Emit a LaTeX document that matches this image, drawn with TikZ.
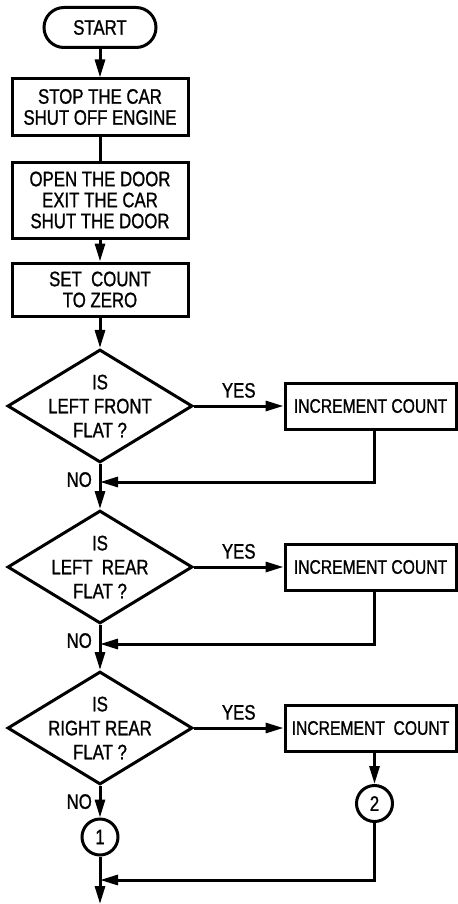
\documentclass[tikz,border=0pt]{standalone}
\usepackage{fontspec}
\setmainfont{Liberation Sans}[FakeStretch=0.8,FakeBold=1]
\usepackage{tikz}
\usetikzlibrary{shapes.geometric,arrows.meta}

\tikzset{
  every node/.style={font=\fontsize{10.5}{10.5}\selectfont},
  flowbox/.style={rectangle, draw, line width=1.5pt, align=center, minimum width=88pt, inner sep=0pt},
  startbox/.style={rectangle, draw, rounded corners=10pt, line width=1.5pt, minimum width=56pt, minimum height=20pt},
  incbox/.style={rectangle, draw, line width=1.5pt, minimum width=85.5pt, minimum height=23pt, inner sep=1pt, font=\fontsize{9.8}{10.5}\selectfont},
  decision/.style={diamond, draw, line width=1.5pt, minimum width=92.5pt, minimum height=56.5pt, inner sep=0pt},
  decisiontext/.style={align=center, font=\fontsize{10.5}{12}\selectfont},
  connector/.style={circle, draw, line width=1.5pt, minimum size=18pt, inner sep=0pt},
  flow/.style={line width=1.5pt},
  arr/.style={flow, -{Triangle[length=9pt,width=5pt]}},
}

\begin{document}
\begin{tikzpicture}[node distance=2cm]
    \useasboundingbox (0,0) rectangle (229pt,-452pt);

    \node[startbox] (start) at (50pt,-13.75pt) {START};
    \node[flowbox, minimum height=28pt, node distance=39.75pt, below of=start] (stop) {STOP THE CAR\\SHUT OFF ENGINE};
    \node[flowbox, minimum height=38pt, node distance=46.5pt, below of=stop] (open) {OPEN THE DOOR\\EXIT THE CAR\\SHUT THE DOOR};
    \node[flowbox, minimum height=26.5pt, node distance=44.75pt, below of=open] (setcount) {SET\ \ COUNT\\TO ZERO};

    \node[decision, node distance=58.25pt, below of=setcount, label={[decisiontext]center:IS\\LEFT FRONT\\FLAT ?}] (leftfront) {};
    \node[incbox, node distance=135.25pt, right of=leftfront] (inclf) {INCREMENT COUNT};
    \coordinate[node distance=38pt, below of=leftfront] (joinlf);

    \node[decision, node distance=80.5pt, below of=leftfront, label={[decisiontext]center:IS\\LEFT\ \ REAR\\FLAT ?}] (leftrear) {};
    \node[incbox, node distance=135.25pt, right of=leftrear] (inclr) {INCREMENT COUNT};
    \coordinate[node distance=38.5pt, below of=leftrear] (joinlr);

    \node[decision, node distance=80.5pt, below of=leftrear, label={[decisiontext]center:IS\\RIGHT REAR\\FLAT ?}] (rightrear) {};
    \node[incbox, node distance=135.25pt, right of=rightrear] (incrr) {INCREMENT\ \ COUNT};

    \node[connector, node distance=54.5pt, below of=rightrear] (conone) {1};
    \node[connector, node distance=37.75pt, below of=incrr, xshift=2pt] (contwo) {2};
    \coordinate[node distance=21.5pt, below of=conone] (joinrr);
    \coordinate[node distance=33.5pt, below of=conone] (exit);

    \draw[arr] (start) -- (stop);
    \draw[flow] (stop) -- (open);
    \draw[arr] (open) -- (setcount);
    \draw[arr] (setcount) -- (leftfront);

    \draw[arr] (leftfront) -- (inclf) node[midway, above] {YES};
    \draw[arr] (leftfront) -- (leftrear) node[pos=0, below left] {NO};
    \draw[arr] ([xshift=2pt]inclf.south) |- (joinlf);

    \draw[arr] (leftrear) -- (inclr) node[midway, above] {YES};
    \draw[arr] (leftrear) -- (rightrear) node[pos=0, below left] {NO};
    \draw[arr] ([xshift=2pt]inclr.south) |- (joinlr);

    \draw[arr] (rightrear) -- (incrr) node[midway, above] {YES};
    \draw[arr] (rightrear) -- (conone) node[pos=0, below left] {NO};
    \draw[arr] (contwo |- incrr.south) -- (contwo);
    \draw[arr] (contwo) |- (joinrr);
    \draw[arr] (conone) -- (exit);
\end{tikzpicture}
\end{document}
